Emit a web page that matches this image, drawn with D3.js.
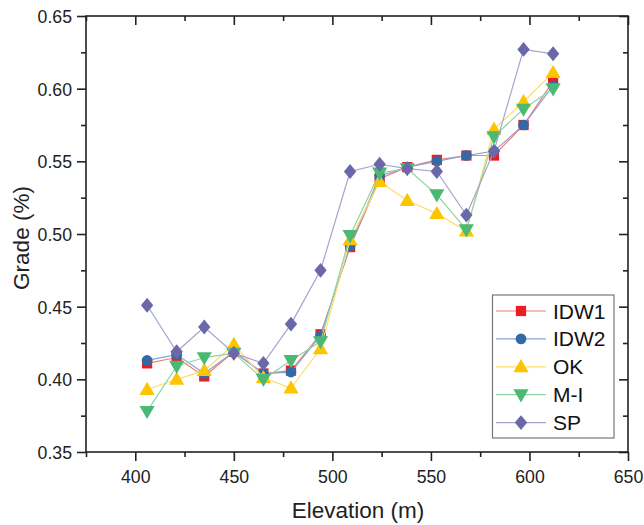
<!DOCTYPE html>
<html><head><meta charset="utf-8">
<script src="https://cdn.jsdelivr.net/npm/d3@7"></script>
<style>body{margin:0;background:#fff;} text{font-family:Arial,"Liberation Sans",sans-serif;}</style>
</head><body>
<svg id="c" width="644" height="525"></svg>
<script>
const elevation = [406, 421, 435, 450, 465, 479, 494, 509, 524, 538, 553, 568, 582, 597, 612];
const idw1 = [0.411, 0.415, 0.402, 0.419, 0.404, 0.406, 0.431, 0.491, 0.538, 0.546, 0.551, 0.554, 0.554, 0.575, 0.605];
const idw2 = [0.413, 0.417, 0.404, 0.419, 0.404, 0.405, 0.430, 0.492, 0.540, 0.546, 0.550, 0.554, 0.557, 0.575, 0.602];
const ok   = [0.393, 0.400, 0.406, 0.424, 0.401, 0.394, 0.421, 0.496, 0.536, 0.523, 0.514, 0.502, 0.572, 0.591, 0.611];
const mi   = [0.378, 0.409, 0.415, 0.418, 0.400, 0.413, 0.426, 0.499, 0.542, 0.545, 0.527, 0.503, 0.567, 0.586, 0.600];
const sp   = [0.451, 0.419, 0.436, 0.418, 0.411, 0.438, 0.475, 0.543, 0.548, 0.545, 0.543, 0.513, 0.557, 0.627, 0.624];
const seriesNames = ["IDW1", "IDW2", "OK", "M-I", "SP"];
const xTicks = [400, 450, 500, 550, 600, 650];
const yTicks = [0.35, 0.40, 0.45, 0.50, 0.55, 0.60, 0.65];

const colors = ["#ec1c24", "#336aa6", "#fcc500", "#4bb873", "#6a68a8"];
const lineColors = ["#f27a7a", "#86a6cf", "#ffdc6e", "#8fd4a6", "#a5a3cf"];
const symbols = [d3.symbolSquare, d3.symbolCircle, d3.symbolTriangle, d3.symbolTriangle, d3.symbolDiamond];
const symSizes = [105, 90, 100, 100, 100];
const rotate = [0, 0, 0, 180, 0];
const data = [idw1, idw2, ok, mi, sp];

const svg = d3.select("#c");
const L = 86, R = 628, T = 16, B = 452;
const x = d3.scaleLinear().domain([375, 650]).range([L, R]);
const y = d3.scaleLinear().domain([0.35, 0.65]).range([B, T]);

const minorX = d3.range(375, 651, 25).filter(v => !xTicks.includes(v));
const minorY = d3.range(0, 7).map(i => 0.375 + i * 0.05).filter(v => v < 0.65);

function symTransform(si, cx, cy) {
  const dy = si === 2 ? 1 : si === 3 ? -1 : 0;
  return `translate(${cx},${cy + dy}) rotate(${rotate[si]})` + (si === 4 ? " scale(1.15,0.8)" : "");
}

// series
data.forEach((vals, si) => {
  const pts = elevation.map((e, i) => [e, vals[i]]);
  svg.append("path").datum(pts)
    .attr("d", d3.line().x(d => x(d[0])).y(d => y(d[1])))
    .attr("fill", "none").attr("stroke", lineColors[si]).attr("stroke-width", 1.2);
  const sym = d3.symbol().type(symbols[si]).size(symSizes[si]);
  svg.append("g").selectAll("path").data(pts).join("path")
    .attr("d", sym)
    .attr("transform", d => symTransform(si, x(d[0]), y(d[1])))
    .attr("fill", colors[si]);
});

// frame
svg.append("rect").attr("x", L).attr("y", T).attr("width", R - L).attr("height", B - T)
  .attr("fill", "none").attr("stroke", "#222").attr("stroke-width", 1.6);

const axB = svg.append("g").attr("transform", `translate(0,${B})`)
  .call(d3.axisBottom(x).tickValues(xTicks).tickSize(9).tickFormat(d3.format("d")));
svg.append("g").attr("transform", `translate(0,${B})`)
  .call(d3.axisBottom(x).tickValues(minorX).tickSize(5).tickFormat(""));
svg.append("g").attr("transform", `translate(0,${T})`)
  .call(d3.axisBottom(x).tickValues(xTicks).tickSize(9).tickFormat(""));
svg.append("g").attr("transform", `translate(0,${T})`)
  .call(d3.axisBottom(x).tickValues(minorX).tickSize(5).tickFormat(""));
const axL = svg.append("g").attr("transform", `translate(${L},0)`)
  .call(d3.axisLeft(y).tickValues(yTicks).tickSize(9).tickFormat(d3.format(".2f")));
svg.append("g").attr("transform", `translate(${L},0)`)
  .call(d3.axisLeft(y).tickValues(minorY).tickSize(5).tickFormat(""));
svg.append("g").attr("transform", `translate(${R},0)`)
  .call(d3.axisLeft(y).tickValues(yTicks).tickSize(9).tickFormat(""));
svg.append("g").attr("transform", `translate(${R},0)`)
  .call(d3.axisLeft(y).tickValues(minorY).tickSize(5).tickFormat(""));
svg.selectAll(".domain").remove();
svg.selectAll(".tick line").attr("stroke", "#222").attr("stroke-width", 1.6);
svg.selectAll(".tick text").attr("font-size", 17.7).attr("fill", "#222")
  .style("font-family", "Arial, 'Liberation Sans', sans-serif");
axB.selectAll(".tick text").attr("y", 31).attr("dy", 0);
axL.selectAll(".tick text").attr("x", -14).attr("dy", "0.36em");

svg.append("text").attr("x", 358).attr("y", 518).attr("text-anchor", "middle")
  .attr("font-size", 22.5).attr("fill", "#222").text("Elevation (m)");
svg.append("text").attr("transform", `translate(28.5,238) rotate(-90)`)
  .attr("text-anchor", "middle").attr("font-size", 22.5).attr("fill", "#222").text("Grade (%)");

// legend
const lg = svg.append("g");
lg.append("rect").attr("x", 492.5).attr("y", 295).attr("width", 121.5).attr("height", 143)
  .attr("fill", "#fff").attr("stroke", "#777").attr("stroke-width", 1.2);
seriesNames.forEach((n, si) => {
  const yy = 311 + si * 27.9;
  lg.append("line").attr("x1", 496).attr("x2", 546).attr("y1", yy).attr("y2", yy)
    .attr("stroke", lineColors[si]).attr("stroke-width", 1.2);
  lg.append("path").attr("d", d3.symbol().type(symbols[si]).size(symSizes[si])())
    .attr("transform", symTransform(si, 521, yy))
    .attr("fill", colors[si]);
  lg.append("text").attr("x", 553).attr("y", yy + 7.5).attr("font-size", 21).attr("fill", "#111").text(n);
});
</script>
</body></html>
